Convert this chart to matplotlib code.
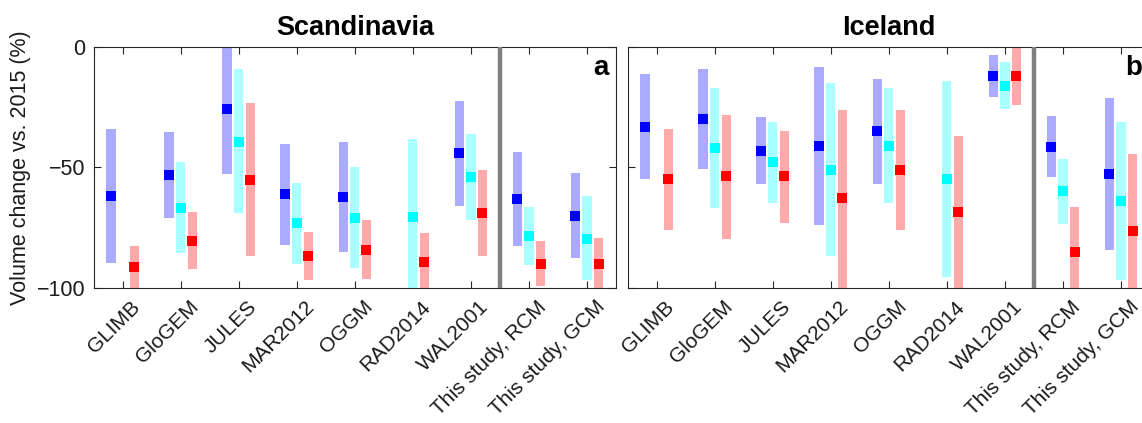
import matplotlib.pyplot as plt
import matplotlib.transforms as mtransforms
import numpy as np

plt.rcParams['font.family'] = ['Liberation Sans', 'DejaVu Sans']

models = ['GLIMB', 'GloGEM', 'JULES', 'MAR2012', 'OGGM', 'RAD2014', 'WAL2001',
          'This study, RCM', 'This study, GCM']
nan = np.nan

# Scandinavia: (low, median, high) for the three scenarios
scan_blue_lo = [-89.7, -71.1, -52.7, -82.0, -85.0, nan, -66.0, -82.5, -87.6]
scan_blue_md = [-61.7, -53.1, -25.8, -61.1, -62.2, nan, -44.2, -63.1, -70.0]
scan_blue_hi = [-34.1, -35.4, 0.0, -40.3, -39.5, nan, -22.4, -43.5, -52.5]
scan_cyan_lo = [nan, -85.5, -69.0, -90.0, -91.9, -100.0, -72.0, -90.5, -96.8]
scan_cyan_md = [nan, -66.7, -39.4, -73.1, -70.8, -70.4, -54.1, -78.4, -79.5]
scan_cyan_hi = [nan, -48.0, -9.4, -56.3, -50.0, -38.4, -36.3, -66.4, -62.0]
scan_red_lo = [-100.0, -92.2, -86.9, -96.6, -96.3, -100.0, -86.9, -99.3, -100.0]
scan_red_md = [-91.3, -80.4, -55.2, -86.8, -84.2, -89.1, -69.0, -90.0, -90.2]
scan_red_hi = [-82.5, -68.6, -23.2, -76.9, -71.8, -77.3, -51.2, -80.7, -79.3]

# Iceland
ice_blue_lo = [-54.9, -50.8, -56.9, -73.7, -56.9, nan, -21.1, -54.1, -84.2]
ice_blue_md = [-33.2, -30.1, -43.1, -41.0, -35.1, nan, -12.2, -41.6, -52.7]
ice_blue_hi = [-11.4, -9.4, -29.3, -8.3, -13.3, nan, -3.3, -28.9, -21.4]
ice_cyan_lo = [nan, -66.7, -64.8, -86.6, -64.7, -95.6, -26.0, -73.4, -96.7]
ice_cyan_md = [nan, -42.0, -48.0, -51.1, -41.0, -54.9, -16.2, -60.0, -63.9]
ice_cyan_hi = [nan, -17.3, -31.2, -15.2, -17.3, -14.3, -6.4, -46.7, -31.2]
ice_red_lo = [-75.9, -79.7, -72.9, -100.0, -75.9, -100.0, -24.1, -100.0, -100.0]
ice_red_md = [-54.9, -53.8, -53.8, -62.9, -51.1, -68.7, -12.2, -84.9, -76.3]
ice_red_hi = [-34.3, -28.3, -35.1, -26.3, -26.3, -37.2, 0.0, -66.5, -44.5]

x = np.arange(1, len(models) + 1)
offsets = [-0.2, 0.0, 0.2]
light = ['#aaaaff', '#aaffff', '#ffaaaa']
dark = ['#0000ff', '#00ffff', '#ff0000']
bw = 0.16

fig = plt.figure(figsize=(11.42, 4.23), dpi=100)
ax1 = fig.add_axes([0.0819, 0.319, 0.4575, 0.571])
ax2 = fig.add_axes([0.5495, 0.319, 0.4575, 0.571])

panels = [
    (ax1, 'Scandinavia', 'a',
     [(scan_blue_lo, scan_blue_md, scan_blue_hi),
      (scan_cyan_lo, scan_cyan_md, scan_cyan_hi),
      (scan_red_lo, scan_red_md, scan_red_hi)]),
    (ax2, 'Iceland', 'b',
     [(ice_blue_lo, ice_blue_md, ice_blue_hi),
      (ice_cyan_lo, ice_cyan_md, ice_cyan_hi),
      (ice_red_lo, ice_red_md, ice_red_hi)]),
]

# rotated labels sit a little right of and below each tick
shift = mtransforms.ScaledTranslation(8 / 100, -9 / 100, fig.dpi_scale_trans)

for ax, title, letter, series in panels:
    for k, (lo, md, hi) in enumerate(series):
        lo = np.array(lo)
        md = np.array(md)
        hi = np.array(hi)
        ax.bar(x + offsets[k], hi - lo, bw, bottom=lo, color=light[k],
               edgecolor='none', zorder=2)
        ax.plot(x + offsets[k], md, 's', color=dark[k], markersize=7.3,
                markeredgewidth=0, zorder=3)
    ax.axvline(7.5, color='#808080', lw=3.2, zorder=4)
    ax.set_xlim(0.5, 9.5)
    ax.set_ylim(-100, 0)
    ax.set_yticks([-100, -50, 0])
    ax.set_xticks(x)
    ax.set_xticklabels([])
    trans = mtransforms.blended_transform_factory(ax.transData, ax.transAxes) + shift
    for xi, name in zip(x, models):
        ax.text(xi, 0, name, transform=trans, rotation=45, ha='right', va='top',
                rotation_mode='anchor', fontsize=15, color='#1a1a1a',
                clip_on=False)
    ax.tick_params(direction='in', length=5, width=0.8, color='#262626',
                   top=True, right=True, labelsize=15.5, pad=6,
                   labelcolor='#1a1a1a')
    for s in ax.spines.values():
        s.set_color('#262626')
        s.set_linewidth(0.8)
    ax.set_title(title, fontsize=19.5, fontweight='bold', pad=8)
    ax.text(0.985, 0.965, letter, transform=ax.transAxes, ha='right', va='top',
            fontsize=20, fontweight='bold')

ax1.set_ylabel('Volume change vs. 2015 (%)', fontsize=15.5, color='#1a1a1a')
ax2.set_yticklabels([])

plt.savefig('out.png', dpi=100)
plt.close('all')
